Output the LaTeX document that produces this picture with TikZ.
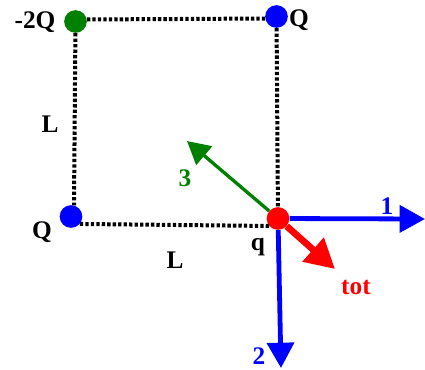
\documentclass[tikz,border=0pt]{standalone}
\usepackage{fontspec}
\setmainfont{Liberation Serif}
\usetikzlibrary{arrows.meta}
\definecolor{chargegreen}{RGB}{0,128,0}

\begin{document}
\begin{tikzpicture}[x=0.75pt,y=-0.75pt]
\tikzset{
  charge/.style={circle,fill,minimum size=17pt,inner sep=0pt},
  side/.style={line width=3pt,dash pattern=on 2.5pt off 1.6pt},
  txt/.style={inner sep=0pt,font=\fontsize{19}{22}\selectfont\bfseries},
  field/.style={-{Triangle[length=19pt,width=20pt]},line width=3.6pt}
}
\useasboundingbox (0,0) rectangle (425,369);
\node[charge,chargegreen] (n_m) at (75.5,21.5) {};
\node[charge,blue] (n_Qa) at (276.5,16.5) {};
\node[charge,blue] (n_Qb) at (71,216.5) {};
\node[charge,red] (n_q) at (278,218.5) {};
\coordinate (c_one) at (425,219);
\coordinate (c_two) at (281,368);
\coordinate (c_tot) at (335,269);
\coordinate (c_three) at (187,141);
\draw[side] (n_m.10) -- (n_Qa.-170);
\draw[side] (n_m) -- (n_Qb.75);
\draw[side] (n_Qa) -- (n_q);
\draw[side] (n_Qb.-40) -- (n_q.-140);
\draw[field,blue] (n_q) -- (c_one);
\draw[field,blue] (n_q) -- (c_two);
\draw[field,chargegreen,line width=2.5pt,-{Triangle[length=17pt,width=18pt]}] (n_q) -- (c_three);
\draw[field,red,line width=5pt,-{Triangle[length=22pt,width=23pt]}] (n_q) -- (c_tot);
\node[txt] (t_m) at (35,22) {-2Q};
\node[txt] (t_Qa) at (299,20) {Q};
\node[txt] (t_Qb) at (42,232) {Q};
\node[txt] (t_Lv) at (50,124) {L};
\node[txt] (t_Lh) at (175,260) {L};
\node[txt] (t_q) at (258,247) {q};
\node[txt,blue] (t_one) at (387,206) {1};
\node[txt,blue] (t_two) at (259,356) {2};
\node[txt,chargegreen] (t_three) at (185,178) {3};
\node[txt,red] (t_tot) at (356,287) {tot};
\end{tikzpicture}
\end{document}
